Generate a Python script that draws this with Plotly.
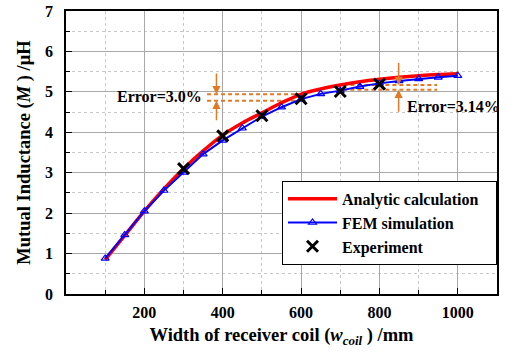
import plotly.graph_objects as go

# Data
x_analytic = [100, 150, 200, 250, 300, 350, 400, 450, 500, 550, 600, 650, 700, 750, 800, 850, 900, 950, 1000]
y_analytic = [0.85, 1.45, 2.05, 2.60, 3.10, 3.54, 3.93, 4.23, 4.48, 4.73, 4.94, 5.07, 5.17, 5.25, 5.31, 5.36, 5.40, 5.43, 5.45]

x_fem = [100, 150, 200, 250, 300, 350, 400, 450, 500, 550, 600, 650, 700, 750, 800, 850, 900, 950, 1000]
y_fem = [0.88, 1.46, 2.05, 2.56, 3.01, 3.46, 3.80, 4.10, 4.39, 4.62, 4.82, 4.95, 5.03, 5.13, 5.21, 5.27, 5.32, 5.36, 5.40]

x_exp = [300, 400, 500, 600, 700, 800]
y_exp = [3.10, 3.91, 4.41, 4.83, 5.01, 5.19]

x_ticks = [200, 400, 600, 800, 1000]
y_ticks = [0, 1, 2, 3, 4, 5, 6, 7]

# error annotation 1
err1_x = [360, 598]
err1_y = [4.94, 4.78]
err1_arrow_x = 384
err1_label = "Error=3.0%"
# error annotation 2
err2_x = [708, 947]
err2_y = [5.17, 5.05]
err2_arrow_x = 849
err2_label = "Error=3.14%"

ORANGE = "#E07A27"
FONT = "Liberation Serif"

fig = go.Figure()

# dashed error lines
for xs, ys in [(err1_x, err1_y), (err2_x, err2_y)]:
    for yv in ys:
        fig.add_trace(go.Scatter(x=xs, y=[yv, yv], mode="lines",
                                 line=dict(color=ORANGE, width=2, dash="4px,3px"),
                                 showlegend=False, hoverinfo="skip"))

fig.add_trace(go.Scatter(x=x_analytic, y=y_analytic, mode="lines",
                         name="<b>Analytic calculation</b>&nbsp;&nbsp;&nbsp;",
                         line=dict(color="#FF0000", width=3.5, shape="spline")))
fig.add_trace(go.Scatter(x=x_fem, y=y_fem, mode="lines+markers", name="<b>FEM simulation</b>",
                         line=dict(color="#0000FF", width=2),
                         marker=dict(symbol="triangle-up-open", size=7, color="#0000FF",
                                     line=dict(width=1.2))))
fig.add_trace(go.Scatter(x=x_exp, y=y_exp, mode="markers", name="<b>Experiment</b>",
                         marker=dict(symbol="x-thin", size=11, color="black",
                                     line=dict(width=3, color="black"))))

# arrows
arrows = [
    (err1_arrow_x, err1_y[0], err1_y[0] + 0.55),
    (err1_arrow_x, err1_y[1], err1_y[1] - 0.52),
    (err2_arrow_x, err2_y[0], err2_y[0] + 0.58),
    (err2_arrow_x, err2_y[1], err2_y[1] - 0.58),
]
for ax_, yh, yt in arrows:
    fig.add_annotation(x=ax_, y=yh, ax=ax_, ay=yt, xref="x", yref="y", axref="x", ayref="y",
                       showarrow=True, arrowhead=2, arrowsize=1.1, arrowwidth=1.5,
                       arrowcolor=ORANGE, text="")

fig.add_annotation(x=352, y=4.89, xref="x", yref="y", text="<b>" + err1_label + "</b>",
                   showarrow=False, xanchor="right", font=dict(family=FONT, size=16, color="black"))
fig.add_annotation(x=866, y=4.64, xref="x", yref="y", text="<b>" + err2_label + "</b>",
                   showarrow=False, xanchor="left", font=dict(family=FONT, size=16, color="black"))

axis_common = dict(showline=True, linecolor="black", linewidth=1.5, mirror=True,
                   ticks="inside", tickcolor="black", ticklen=6, tickwidth=1,
                   gridcolor="#A8A8A8", gridwidth=1, zeroline=False, automargin=False,
                   tickfont=dict(family=FONT, size=16, color="black"))

fig.update_xaxes(range=[0, 1100], tickvals=x_ticks, ticktext=[f"<b>{v}</b>" for v in x_ticks],
                 minor=dict(dtick=100, tick0=0, showgrid=True, gridcolor="#C8C8C8", griddash="dot",
                            ticks="inside", ticklen=4, tickcolor="black"),
                 title=dict(text="<b>Width of receiver coil (<i>w<sub>coil</sub></i> ) /mm</b>",
                            font=dict(family=FONT, size=18.5, color="black"), standoff=8),
                 ticklabelstandoff=3,
                 **axis_common)
fig.update_yaxes(range=[0, 7], tickvals=y_ticks, ticktext=[f"<b>{v}</b>" for v in y_ticks],
                 minor=dict(dtick=0.5, tick0=0, showgrid=True, gridcolor="#C8C8C8", griddash="dot",
                            ticks="inside", ticklen=4, tickcolor="black"),
                 title=dict(text="<b>Mutual Inductance (<i>M</i> ) /μH</b>",
                            font=dict(family=FONT, size=18.5, color="black"), standoff=10),
                 ticklabelstandoff=8,
                 **axis_common)

fig.update_layout(
    width=511, height=354,
    margin=dict(l=66, r=14, t=11, b=60),
    plot_bgcolor="white", paper_bgcolor="white",
    font=dict(family=FONT, color="black"),
    legend=dict(x=1.0, y=0.40, xanchor="right", yanchor="top",
                bgcolor="white", bordercolor="black", borderwidth=1,
                font=dict(family=FONT, size=16, color="black"),
                itemwidth=49, tracegroupgap=0),
)

fig.write_html("out.html", config={"displayModeBar": False},
               post_script="document.body.style.margin='0';document.body.style.padding='0';")
